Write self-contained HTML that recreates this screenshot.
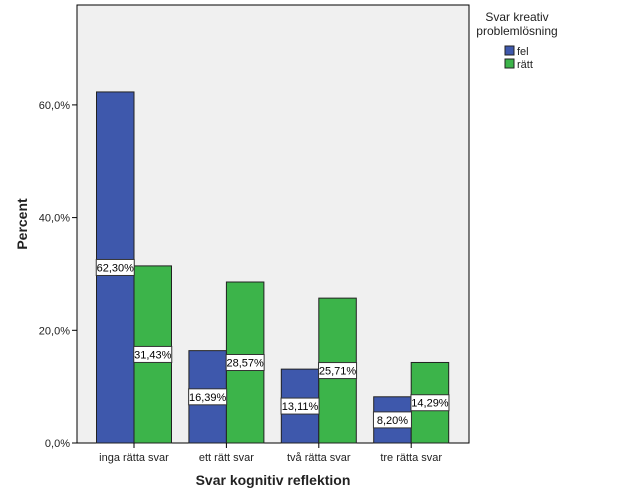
<!DOCTYPE html>
<html><head><meta charset="utf-8"><style>body{margin:0;background:#fff}svg{display:block;font-family:"Liberation Sans",sans-serif}</style></head>
<body>
<svg id="c" width="626" height="501">
<rect x="77" y="5" width="392" height="438" fill="#f0f0f0" stroke="#000" stroke-width="1"/>
<g id="bars"></g><g id="ax"></g>
<text x="517" y="21" font-size="12" text-anchor="middle" fill="#222">Svar kreativ</text>
<text x="517" y="35" font-size="12" text-anchor="middle" fill="#222">problemlösning</text>
<rect x="505" y="46" width="9" height="9" fill="#3e58ac" stroke="#222"/>
<text x="517" y="55" font-size="11" fill="#222">fel</text>
<rect x="505" y="59" width="9" height="9" fill="#3cb44a" stroke="#222"/>
<text x="517" y="68" font-size="11" fill="#222">rätt</text>
<text x="273" y="485" font-size="14" font-weight="bold" text-anchor="middle" fill="#222">Svar kognitiv reflektion</text>
<text transform="translate(27,224) rotate(-90)" font-size="14" font-weight="bold" text-anchor="middle" fill="#222">Percent</text>
</svg>
<script>
const categories=["inga rätta svar","ett rätt svar","två rätta svar","tre rätta svar"];
const felValues=[62.30,16.39,13.11,8.20];
const rattValues=[31.43,28.57,25.71,14.29];
const yTicks=[0,20,40,60];
const tickLabels=["0,0%","20,0%","40,0%","60,0%"];
const NS="http://www.w3.org/2000/svg";
const y=v=>443-v*(112.7/20);
const cx=i=>134+i*92.4;
const bw=37.5;
const bars=document.getElementById('bars'),ax=document.getElementById('ax');
function mk(p,tag,a){const e=document.createElementNS(NS,tag);for(const k in a)e.setAttribute(k,a[k]);p.appendChild(e);return e;}
const fmt=v=>v.toFixed(2).replace('.',',')+'%';
const series=[[felValues,"#3e58ac",-1,'fel'],[rattValues,"#3cb44a",0,'ratt']];
const labels=[];
categories.forEach((c,i)=>{
 series.forEach(([vals,col,off,nm])=>{
  const x=cx(i)+off*bw,v=vals[i];
  const r=mk(bars,'rect',{x:x,y:y(v),width:bw,height:443-y(v),fill:col,stroke:"#222","stroke-width":1});
  
  
  labels.push([x+bw/2,(y(v)+443)/2,fmt(v),nm+'-'+i]);
 });
 mk(ax,'line',{x1:cx(i),x2:cx(i),y1:443,y2:448,stroke:"#000"});
 const t=mk(ax,'text',{x:cx(i),y:461,"font-size":11,"text-anchor":"middle",fill:"#222"});
 t.textContent=c;
 
 
});
labels.forEach(([x,yy,s,id])=>{
 const b=mk(bars,'rect',{x:x-19,y:yy-8,width:38,height:16,fill:"#fff",stroke:"#333"});
 
 
 const t=mk(bars,'text',{x:x,y:yy+4,"font-size":11,"text-anchor":"middle",fill:"#000"});
 t.textContent=s;
 
 
});
yTicks.forEach((v,i)=>{
 mk(ax,'line',{x1:72,x2:77,y1:y(v),y2:y(v),stroke:"#000"});
 const t=mk(ax,'text',{x:70,y:y(v)+4,"font-size":11,"text-anchor":"end",fill:"#222"});
 t.textContent=tickLabels[i];
 
 
});
</script>
</body></html>
